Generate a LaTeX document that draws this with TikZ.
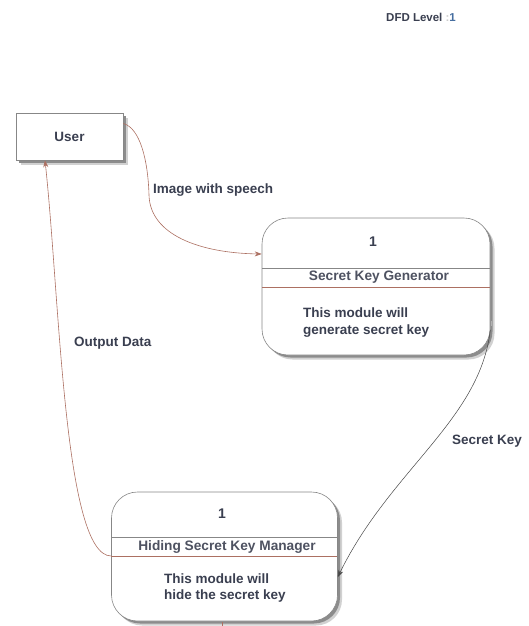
\documentclass[tikz,border=0pt]{standalone}
\usepackage{fontspec}
\setmainfont{Liberation Sans}
\usetikzlibrary{arrows.meta}

\definecolor{inktext}{RGB}{58,63,80}
\definecolor{edgegray}{RGB}{135,135,135}
\definecolor{flowbrown}{RGB}{172,112,98}
\definecolor{flowdark}{RGB}{70,70,70}
\definecolor{levelblue}{RGB}{70,110,160}

\tikzset{
  x=1pt, y=-1pt,
  % soft shadow to the lower right, built from two offset fills
  boxshadow/.style={
    preaction={draw=none, fill=black!18, transform canvas={xshift=4.5pt, yshift=-4.5pt}},
    preaction={draw=none, fill=black!45, transform canvas={xshift=2.5pt, yshift=-2.5pt}}},
  entitybox/.style={draw=edgegray, line width=0.6pt, fill=white, minimum width=107pt, minimum height=47pt,
    inner sep=0pt, boxshadow},
  processbox/.style={draw=edgegray, line width=0.6pt, fill=white, rounded corners=26pt, inner sep=0pt, boxshadow},
  lbl/.style={text=inktext, font=\fontsize{13.5}{16}\selectfont\bfseries, inner sep=0pt},
  title/.style={text=inktext!90, font=\fontsize{13.7}{17}\selectfont\bfseries, inner sep=0pt},
  body/.style={text=inktext, font=\fontsize{13.5}{16.5}\selectfont\bfseries, inner sep=0pt, align=left, anchor=west},
  brownflow/.style={draw=flowbrown, line width=0.6pt, -{Stealth[length=7pt,width=5pt]}},
  darkflow/.style={draw=flowdark, line width=0.5pt, -{Stealth[length=7pt,width=5pt]}},
}

\begin{document}
\begin{tikzpicture}
  \useasboundingbox (0,0) rectangle (528,626);

  % heading
  \node[lbl, anchor=west, font=\fontsize{11.5}{14}\selectfont\bfseries] (level) at (386,17)
    {DFD Level \textcolor{black!20}{:}\textcolor{levelblue}{1}};

  % external entity
  \node[entitybox] (user) at (69.5,136.5) {};
  \node[lbl] (usertxt) at (user.center) {User};

  % process: secret key generator
  \node[processbox, minimum width=228pt, minimum height=137pt] (gen) at (376,286.5) {};
  \draw[edgegray, line width=0.6pt] (262,268) -- (490,268);
  \draw[flowbrown, line width=0.6pt] (262,287) -- (490,287);
  \node[lbl, font=\fontsize{14}{16}\selectfont\bfseries] (gennum) at (373,242) {1};
  \node[title] (gentitle) at (379,277.5) {Secret Key Generator};
  \node[body] (genbody) at (303,322.5) {This module will\\generate secret key};
  \draw[black!30, line width=1pt] (491,321) -- (491,326);

  % process: hiding secret key manager
  \node[processbox, minimum width=226pt, minimum height=129pt] (hide) at (224.5,556.5) {};
  \draw[edgegray, line width=0.6pt] (111,537) -- (337,537);
  \draw[flowbrown, line width=0.6pt] (111,556) -- (337,556);
  \node[lbl, font=\fontsize{14}{16}\selectfont\bfseries] (hidenum) at (222,514) {1};
  \node[title] (hidetitle) at (227,546.5) {Hiding Secret Key Manager};
  \node[body] (hidebody) at (164,588) {This module will\\hide the secret key};
  \draw[flowbrown, line width=1pt] (222,622) -- (222,626);

  % data flows
  \draw[brownflow] ([yshift=13pt]user.east) .. controls (140,128) and (148,160) .. (149,195)
    .. controls (150,235) and (200,253) .. ([yshift=32.5pt]gen.west);
  \draw[darkflow] ([yshift=-43.5pt]gen.east) .. controls (480,420) and (390,470) .. ([yshift=-20.5pt]hide.east);
  \draw[brownflow] ([yshift=0.5pt]hide.west) .. controls (64,556) and (60,300) .. ([xshift=-24.5pt]user.south);

  % flow labels
  \node[lbl, anchor=west] (imglbl) at (153,190) {Image with speech};
  \node[lbl, anchor=west] (outlbl) at (74,343) {Output Data};
  \node[lbl, anchor=west] (keylbl) at (452,441) {Secret Key};
\end{tikzpicture}
\end{document}
